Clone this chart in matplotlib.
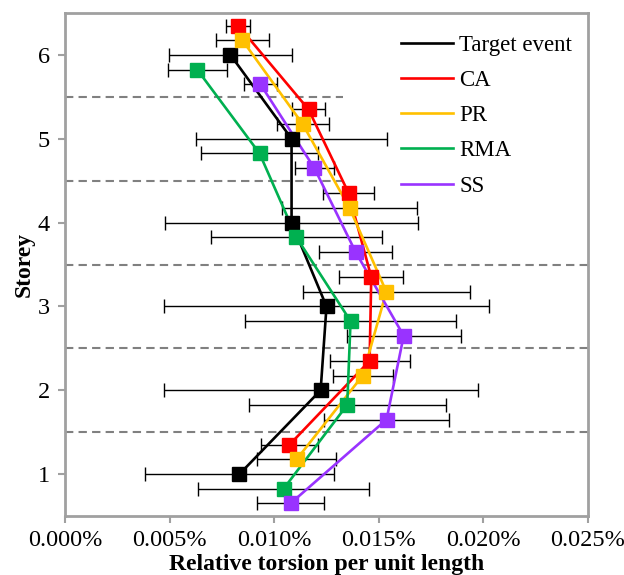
#!/usr/bin/env python3
# -*- coding: utf-8 -*-
"""
Relative torsion per unit length by storey: target event vs. the four
ground-motion selection methods (CA / PR / RMA / SS), with +-1 std bars.
"""

import numpy as np
import matplotlib
matplotlib.use("Agg")
import matplotlib.pyplot as plt

OUT_PNG = "out.png"

STOREYS = [1, 2, 3, 4, 5, 6]
SERIES = ["Target event", "CA", "PR", "RMA", "SS"]

# mean relative torsion per unit length (%), storey 1..6
target_mean = [0.00834, 0.01222, 0.01250, 0.01083, 0.01083, 0.00791]
ca_mean     = [0.01073, 0.01456, 0.01464, 0.01356, 0.01164, 0.00828]
pr_mean     = [0.01107, 0.01423, 0.01536, 0.01360, 0.01136, 0.00848]
rma_mean    = [0.01045, 0.01349, 0.01365, 0.01106, 0.00930, 0.00632]
ss_mean     = [0.01078, 0.01537, 0.01619, 0.01389, 0.01192, 0.00934]

# half width of the error bars (%)
target_err = [0.00450, 0.00750, 0.00775, 0.00606, 0.00455, 0.00295]
ca_err     = [0.00134, 0.00191, 0.00152, 0.00123, 0.00077, 0.00058]
pr_err     = [0.00187, 0.00144, 0.00399, 0.00323, 0.00124, 0.00128]
rma_err    = [0.00407, 0.00470, 0.00504, 0.00409, 0.00281, 0.00140]
ss_err     = [0.00160, 0.00297, 0.00273, 0.00174, 0.00093, 0.00080]

X_TICKS = [0.0, 0.005, 0.010, 0.015, 0.020, 0.025]
FLOOR_LINES = [1.5, 2.5, 3.5, 4.5, 5.5]
FLOOR_LINE_END = [0.025, 0.025, 0.025, 0.0133, 0.0133]

COLORS = {"Target event": "black", "CA": "#ff0000", "PR": "#ffc000",
          "RMA": "#00b050", "SS": "#9933ff"}
OFFSETS = {"Target event": 0.0, "CA": 0.35, "PR": 0.175,
           "RMA": -0.175, "SS": -0.35}
SPINE = "#a0a0a0"


def main():
    plt.rcParams["font.family"] = ["Liberation Serif", "DejaVu Serif"]
    means = dict(zip(SERIES, [target_mean, ca_mean, pr_mean, rma_mean, ss_mean]))
    errs = dict(zip(SERIES, [target_err, ca_err, pr_err, rma_err, ss_err]))

    fig = plt.figure(figsize=(6.24, 5.75), dpi=100)
    ax = fig.add_axes([65/624, 1-516/575, (588-65)/624, (516-13)/575])

    # storey separators
    for yl, xe in zip(FLOOR_LINES, FLOOR_LINE_END):
        ax.hlines(yl, 0, xe, colors="#808080", lw=1.5, linestyles=(0, (4, 2.5)), zorder=1)

    handles = []
    for name in SERIES:
        y = np.asarray(STOREYS, float) + OFFSETS[name]
        x = np.asarray(means[name])
        ax.errorbar(x, y, xerr=errs[name], fmt="none", ecolor="black",
                    elinewidth=1.0, capsize=5, capthick=1.0, zorder=2)
        h, = ax.plot(x, y, "-", color=COLORS[name], lw=1.9, label=name, zorder=3)
        ax.plot(x, y, "s", color=COLORS[name], ms=10, mec=COLORS[name], zorder=4)
        handles.append(h)

    ax.set_xlim(0, 0.025)
    ax.set_ylim(0.5, 6.5)
    ax.set_xticks(X_TICKS)
    ax.set_xticklabels([f"{v:.3f}%" for v in X_TICKS])
    ax.set_yticks(STOREYS)
    ax.tick_params(labelsize=17.5, color=SPINE, width=1.5, length=5, direction="out")
    ax.tick_params(axis="x", pad=5)
    ax.tick_params(axis="y", pad=6)
    for s in ax.spines.values():
        s.set_color(SPINE)
        s.set_linewidth(2)

    ax.set_xlabel("Relative torsion per unit length", fontsize=17, fontweight="bold", labelpad=2)
    ax.set_ylabel("Storey", fontsize=17, fontweight="bold", labelpad=2)

    leg = ax.legend(handles=handles, loc="upper left", bbox_to_anchor=(380/624, 1-14/575),
                    bbox_transform=fig.transFigure, frameon=False, fontsize=16.5,
                    handlelength=2.3, handletextpad=0.25, labelspacing=0.62)
    for l in leg.get_lines():
        l.set_linewidth(1.9)

    fig.savefig(OUT_PNG, dpi=100)
    plt.close(fig)


if __name__ == "__main__":
    main()
